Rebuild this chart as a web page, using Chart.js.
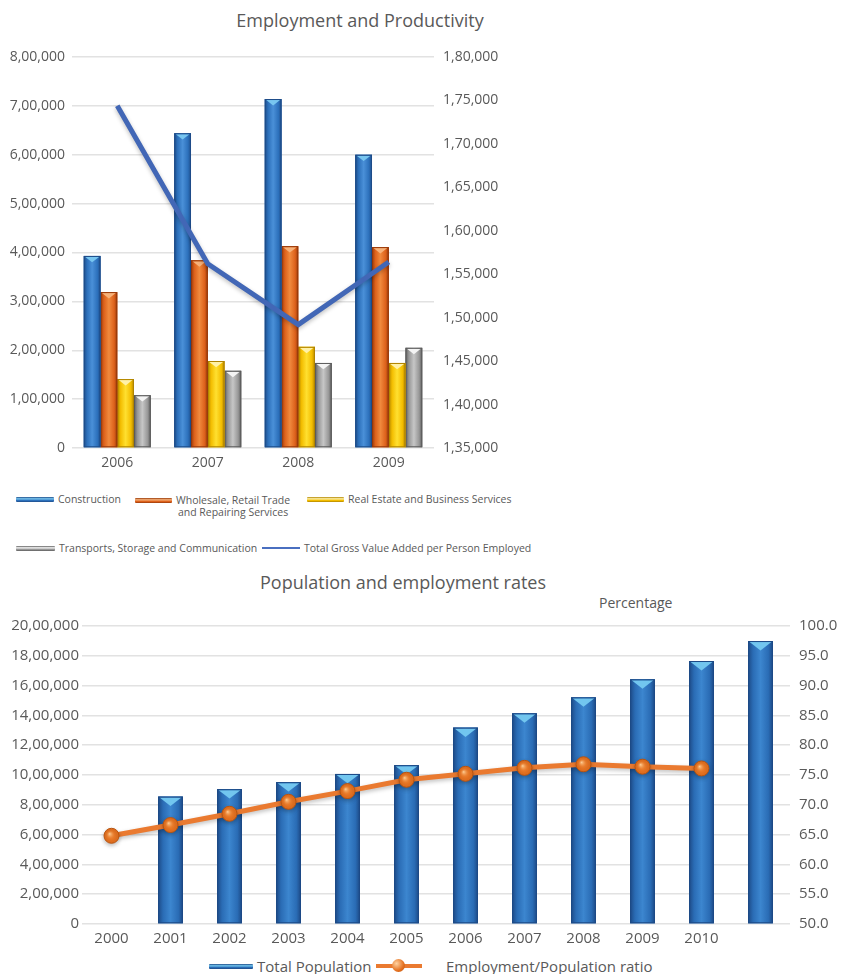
<!DOCTYPE html>
<html>
<head>
<meta charset="utf-8">
<script src="https://cdn.jsdelivr.net/npm/chart.js@4.4.1/dist/chart.umd.min.js"></script>
<style>
  body { margin: 0; background: #fff; font-family: "Open Sans", sans-serif; color: #595959; }
  #page { position: relative; width: 843px; height: 974px; overflow: hidden; }
  .box { position: absolute; }
  .title { position: absolute; text-align: center; font-size: 18px; line-height: 20px; }
  .lg { position: absolute; display: flex; align-items: center; white-space: nowrap; }
  .sw { display: inline-block; height: 5px; border-radius: 1px; margin-right: 4px; }
</style>
</head>
<body>
<div id="page">
  <div class="title" style="left:0;top:10px;width:720px;">Employment and Productivity</div>
  <div class="box" style="left:0;top:30px;width:560px;height:440px;"><canvas id="c1" width="560" height="440"></canvas></div>
  <div id="legend1"></div>

  <div class="title" style="left:0;top:572px;width:806px;">Population and employment rates</div>
  <div class="title" style="left:599px;top:594px;font-size:14px;line-height:18px;">Percentage</div>
  <div class="box" style="left:0;top:600px;width:843px;height:355px;"><canvas id="c2" width="843" height="355"></canvas></div>
  <div id="legend2"></div>
</div>

<script>
// ---- employment & productivity ----
const years1 = ['2006', '2007', '2008', '2009'];
const construction = [393000, 644000, 714000, 600000];
const wholesale = [319000, 384000, 413000, 411000];
const realEstate = [141000, 178000, 207000, 174000];
const transport = [108000, 158000, 174000, 205000];
const gvaPerPerson = [174400, 156200, 149200, 156400];

// ---- population & employment ratio ----
const years2 = ['2000', '2001', '2002', '2003', '2004', '2005', '2006', '2007', '2008', '2009', '2010', ''];
const population = [null, 855000, 905000, 952000, 1007000, 1066000, 1318000, 1414000, 1521000, 1642000, 1765000, 1899000];
const empRatio = [64.8, 66.6, 68.5, 70.5, 72.3, 74.2, 75.2, 76.2, 76.8, 76.4, 76.1, null];

const GREY = '#595959';
const GRID = '#e2e2e2';

// shades: [edge, body, highlight, cap]
const SH_BLUE = ['#1e4c88', '#2c70bb', '#4a90d8', '#78c6f0'];
const SH_ORANGE = ['#97390a', '#dd611b', '#f08a3e', '#f7b27a'];
const SH_YELLOW = ['#b08400', '#f3bd00', '#ffe030', '#fff1a8'];
const SH_GREY = ['#5c5c5c', '#979797', '#c6c6c6', '#f4f4f4'];
const SH_POP = ['#1d4a86', '#2a6cb5', '#3c86cf', '#72c6ef'];

// Indian digit grouping, e.g. 8,00,000
function lakh(v) {
  const s = String(Math.round(v));
  if (s.length <= 3) return s;
  const last3 = s.slice(-3);
  const rest = s.slice(0, -3).replace(/\B(?=(\d{2})+(?!\d))/g, ',');
  return rest + ',' + last3;
}

// glossy bars with a small cap on top, plus soft shadow under lines
const bevel = {
  id: 'bevel',
  beforeDatasetDraw(chart, args) {
    const ds = chart.data.datasets[args.index];
    if (ds.type === 'line') {
      const ctx = chart.ctx;
      ctx.save();
      ctx.shadowColor = 'rgba(0,0,0,0.25)';
      ctx.shadowBlur = 4;
      ctx.shadowOffsetY = 2;
    }
  },
  afterDatasetDraw(chart, args) {
    const ds = chart.data.datasets[args.index];
    const ctx = chart.ctx;
    if (ds.type === 'line') {
      ctx.restore();
      if (ds.pointRadius > 0) {
        args.meta.data.forEach((pt, i) => {
          if (ds.data[i] == null) return;
          const g = ctx.createRadialGradient(pt.x - 2, pt.y - 2, 0, pt.x, pt.y, ds.pointRadius);
          g.addColorStop(0, 'rgba(255,214,160,0.95)');
          g.addColorStop(0.5, 'rgba(240,140,60,0.4)');
          g.addColorStop(1, 'rgba(200,90,20,0)');
          ctx.beginPath();
          ctx.arc(pt.x, pt.y, ds.pointRadius - 1, 0, Math.PI * 2);
          ctx.fillStyle = g;
          ctx.fill();
        });
      }
      return;
    }
    if (!ds.shade) return;
    const sh = ds.shade;
    ctx.save();
    args.meta.data.forEach((bar, i) => {
      if (ds.data[i] == null) return;
      const { x, y, base, width } = bar.getProps(['x', 'y', 'base', 'width'], true);
      const l = x - width / 2, w = width, h = base - y;
      const g = ctx.createLinearGradient(l, 0, l + w, 0);
      g.addColorStop(0, sh[0]);
      g.addColorStop(0.2, sh[1]);
      g.addColorStop(0.5, sh[2]);
      g.addColorStop(0.82, sh[1]);
      g.addColorStop(1, sh[0]);
      ctx.fillStyle = g;
      ctx.fillRect(l, y, w, h);
      const t = Math.min(w * 0.38, h);
      ctx.beginPath();
      ctx.moveTo(l + 1.5, y + 1);
      ctx.lineTo(l + w - 1.5, y + 1);
      ctx.lineTo(x, y + t);
      ctx.closePath();
      ctx.fillStyle = sh[3];
      ctx.fill();
      ctx.strokeStyle = sh[0];
      ctx.lineWidth = 1;
      ctx.strokeRect(l + 0.5, y + 0.5, w - 1, h - 1);
    });
    ctx.restore();
  }
};

function barSet(label, data, shade, axis) {
  return { type: 'bar', label, data, shade, yAxisID: axis, backgroundColor: shade[1],
           borderWidth: 0, order: 1 };
}

new Chart(document.getElementById('c1'), {
  type: 'bar',
  data: {
    labels: years1,
    datasets: [
      { type: 'line', label: 'Total Gross Value Added per Person Employed', data: gvaPerPerson,
        yAxisID: 'y1', borderColor: '#4267b6', borderWidth: 5, pointRadius: 0, tension: 0, order: 0 },
      barSet('Construction', construction, SH_BLUE, 'y'),
      barSet('Wholesale, Retail Trade and Repairing Services', wholesale, SH_ORANGE, 'y'),
      barSet('Real Estate and Business Services', realEstate, SH_YELLOW, 'y'),
      barSet('Transports, Storage and Communication', transport, SH_GREY, 'y')
    ]
  },
  options: {
    responsive: false,
    animation: false,
    layout: { padding: { top: 27, left: 0, right: 0, bottom: 0 } },
    datasets: { bar: { categoryPercentage: 0.74, barPercentage: 1 } },
    plugins: { legend: { display: false }, tooltip: { enabled: false } },
    scales: {
      x: {
        grid: { display: false, drawTicks: false },
        border: { display: false },
        ticks: { color: GREY, font: { family: 'Open Sans', size: 14 }, padding: 7 },
        afterFit: s => { s.height = 22; }
      },
      y: {
        min: 0, max: 800000,
        ticks: { stepSize: 100000, color: GREY, font: { family: 'Open Sans', size: 14 }, padding: 7,
                 callback: v => lakh(v) },
        grid: { color: GRID, lineWidth: 1.5, drawTicks: false },
        border: { display: false },
        afterFit: s => { s.width = 72; }
      },
      y1: {
        position: 'right',
        min: 135000, max: 180000,
        ticks: { stepSize: 5000, color: GREY, font: { family: 'Open Sans', size: 14 }, padding: 9,
                 callback: v => lakh(v) },
        grid: { display: false, drawTicks: false },
        border: { display: false },
        afterFit: s => { s.width = 126; }
      }
    }
  },
  plugins: [bevel]
});

new Chart(document.getElementById('c2'), {
  type: 'bar',
  data: {
    labels: years2,
    datasets: [
      { type: 'line', label: 'Employment/Population ratio', data: empRatio, yAxisID: 'y1',
        borderColor: '#ea7a30', borderWidth: 5, tension: 0, order: 0, spanGaps: false,
        pointRadius: 7.5, pointBackgroundColor: '#e4701f', pointBorderColor: '#b9540f', pointBorderWidth: 1 },
      barSet('Total Population', population, SH_POP, 'y')
    ]
  },
  options: {
    responsive: false,
    animation: false,
    layout: { padding: { top: 26, left: 0, right: 0, bottom: 0 } },
    datasets: { bar: { categoryPercentage: 0.42, barPercentage: 1 } },
    plugins: { legend: { display: false }, tooltip: { enabled: false } },
    scales: {
      x: {
        grid: { display: false, drawTicks: false },
        border: { display: false },
        ticks: { color: GREY, font: { family: 'Open Sans', size: 15 }, padding: 6 },
        afterFit: s => { s.height = 31; }
      },
      y: {
        min: 0, max: 2000000,
        ticks: { stepSize: 200000, color: GREY, font: { family: 'Open Sans', size: 15 }, padding: 3,
                 callback: v => lakh(v) },
        grid: { color: GRID, lineWidth: 1.5, drawTicks: false },
        border: { display: false },
        afterFit: s => { s.width = 82; }
      },
      y1: {
        position: 'right',
        min: 50, max: 100,
        ticks: { stepSize: 5, color: GREY, font: { family: 'Open Sans', size: 15 }, padding: 9,
                 callback: v => v.toFixed(1) },
        grid: { display: false, drawTicks: false },
        border: { display: false },
        afterFit: s => { s.width = 53; }
      }
    }
  },
  plugins: [bevel]
});

// ---- html legends ----
function swatch(shade, w, extra) {
  return `<span class="sw" style="width:${w}px;${extra || ''}background:linear-gradient(to bottom, ${shade[0]}, ${shade[3]} 35%, ${shade[1]} 70%, ${shade[0]});"></span>`;
}
function item(left, top, html, size, extra) {
  return `<div class="lg" style="left:${left}px;top:${top}px;font-size:${size}px;${extra || ''}">${html}</div>`;
}

const lg1 = [
  item(16, 492, swatch(SH_BLUE, 38) + 'Construction', 10.5),
  item(135, 494, swatch(SH_ORANGE, 37, 'margin-top:4px;') +
       '<span style="text-align:center;line-height:12px;display:inline-block;">Wholesale, Retail Trade<br>and Repairing Services</span>',
       10.5, 'align-items:flex-start;'),
  item(307, 492, swatch(SH_YELLOW, 37) + 'Real Estate and Business Services', 10.5),
  item(16, 541, swatch(SH_GREY, 39) + 'Transports, Storage and Communication', 10.5),
  item(262, 541, '<span style="display:inline-block;width:38px;height:2px;background:#4a6fc0;margin-right:4px;"></span>' +
       'Total Gross Value Added per Person Employed', 10.5)
];
document.getElementById('legend1').innerHTML = lg1.join('');

const lg2 = [
  item(209, 956, swatch(SH_POP, 44) + 'Total Population', 15),
  item(376, 956, '<span style="position:relative;display:inline-block;width:46px;height:4px;background:#ea7a30;margin-right:24px;">' +
       '<span style="position:absolute;left:16px;top:-5px;width:13px;height:13px;border-radius:50%;background:radial-gradient(circle at 35% 35%, #ffd2a0, #e4701f 60%, #b9540f);"></span></span>' +
       'Employment/Population ratio', 15)
];
document.getElementById('legend2').innerHTML = lg2.join('');
</script>
</body>
</html>
